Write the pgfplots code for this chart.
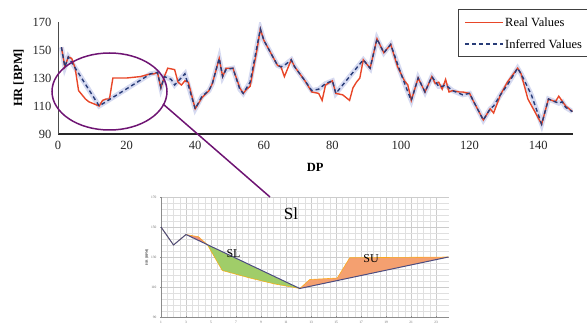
\documentclass[border=0pt]{standalone}
\usepackage{pgfplots}
\pgfplotsset{compat=1.18}
\usepgfplotslibrary{fillbetween}
\usepackage{fontspec}
\setmainfont{Liberation Serif}
\definecolor{realc}{RGB}{232,70,40}
\definecolor{infc}{RGB}{40,60,120}
\definecolor{glowc}{RGB}{200,206,236}
\definecolor{ellc}{RGB}{110,20,115}
\definecolor{slc}{RGB}{160,205,105}
\definecolor{suc}{RGB}{244,160,112}
\definecolor{sdc}{RGB}{235,120,90}
\begin{document}
\begin{tikzpicture}
% ---------------- main chart ----------------
\begin{axis}[
  at={(58pt,196pt)}, anchor=south west,
  scale only axis, width=514.5pt, height=112pt,
  xmin=0, xmax=150, ymin=90, ymax=170,
  axis x line=bottom, axis y line=left,
  x axis line style={-, line width=1.2pt, black!85},
  y axis line style={-, line width=0.8pt, black!70},
  xtick={0,20,...,140}, ytick={90,110,...,170},
  major tick length=0pt,
  tick label style={font=\fontsize{12.5}{14}\selectfont, black!85},
  /pgf/number format/assume math mode=true,
  xticklabel style={yshift=-4pt},
  yticklabel style={xshift=-3pt},
  xlabel={\textbf{DP}}, ylabel={\textbf{HR [BPM]}},
  label style={font=\fontsize{12.5}{14}\selectfont},
  xlabel style={yshift=-6pt},
  ylabel style={yshift=2pt},
]
\addplot[color=glowc, line width=5pt, opacity=0.75] coordinates {
(1,152)(2,138)(3,145)(12,110)(27,133)(29,134)(30,123)(31,131)(33,129)(34,125)(37,133)(40,108)(42,117)(44,121)(45,126)(47,144)(48,131)(49,136)(51,137)(53,122)(54,119)(56,127)(59,165)(60,157)(62,148)(64,139)(65,138)(66,139)(68,143)(69,138)(72,128)(74,121)(76,122)(78,126)(80,128)(81,119)(89,143)(91,137)(93,158)(95,148)(97,154)(99,140)(100,133)(102,120)(103,114)(105,130)(107,120)(109,131)(111,124)(112,124)(113,125)(115,121)(118,118)(120,119)(121,114)(124,100)(126,108)(127,110)(129,118)(131,125)(134,137)(135,133)(138,118)(141,97)(143,115)(146,112)(147,113)(148,109)(150,106)};
\addplot[color=realc, line width=1.4pt] coordinates {
(1,152)(2,138)(3,145)(4,144)(5,137)(6,121)(7,118)(8,115)(9,113)(10,112)(11,111)(12,110)(13,114)(14,115)(15,115)(16,130)(20,130)(24,131)(27,133)(28,133)(29,134)(30,123)(31,131)(32,137)(34,136)(35,127)(36,125)(37,128)(38,127)(40,108)(42,116)(44,121)(45,126)(47,144)(48,131)(49,137)(50,137)(51,137)(53,123)(54,119)(55,122)(56,124)(58,150)(59,165)(60,157)(62,148)(64,139)(65,138)(66,131)(68,143)(69,138)(72,128)(74,120)(76,119)(77,114)(78,125)(80,128)(81,119)(83,118)(85,114)(86,123)(87,127)(88,130)(89,143)(91,137)(93,158)(95,148)(97,154)(99,138)(100,133)(101,128)(102,125)(103,114)(105,130)(107,120)(109,131)(110,126)(111,127)(112,122)(113,129)(114,120)(115,121)(117,120)(118,120)(120,119)(121,114)(124,100)(126,108)(127,105)(129,118)(131,127)(134,137)(135,133)(137,115)(139,106)(141,97)(143,115)(145,113)(146,117)(148,110)(150,106)};
\addplot[color=infc, line width=1.4pt, dash pattern=on 4pt off 3pt] coordinates {
(1,152)(2,138)(3,145)(12,110)(27,133)(29,134)(30,123)(31,131)(33,129)(34,125)(37,133)(40,108)(42,117)(44,121)(45,126)(47,144)(48,131)(49,136)(51,137)(53,122)(54,119)(56,127)(59,165)(60,157)(62,148)(64,139)(65,138)(66,139)(68,143)(69,138)(72,128)(74,121)(76,122)(78,126)(80,128)(81,119)(89,143)(91,137)(93,158)(95,148)(97,154)(99,140)(100,133)(102,120)(103,114)(105,130)(107,120)(109,131)(111,124)(112,124)(113,125)(115,121)(118,118)(120,119)(121,114)(124,100)(126,108)(127,110)(129,118)(131,125)(134,137)(135,133)(138,118)(141,97)(143,115)(146,112)(147,113)(148,109)(150,106)};
\end{axis}
% ---------------- legend (drawn box) ----------------
\draw[black!75, line width=1pt, fill=white] (458pt,273pt) rectangle (600pt,320pt);
\draw[realc, line width=1.4pt] (465pt,307.3pt) -- (503pt,307.3pt);
\draw[infc, line width=1.4pt, dash pattern=on 4pt off 3pt] (465pt,286pt) -- (503pt,286pt);
\node[anchor=west, inner sep=0pt, font=\fontsize{12.5}{14}\selectfont] at (505pt,307.3pt) {Real Values};
\node[anchor=west, inner sep=0pt, font=\fontsize{12.5}{14}\selectfont] at (505pt,286pt) {Inferred Values};
% ---------------- inset ----------------
\begin{axis}[
  at={(161pt,13pt)}, anchor=south west,
  scale only axis, width=287.5pt, height=120pt,
  xmin=1, xmax=24, ymin=90, ymax=170,
  axis x line=bottom, axis y line=left,
  axis line style={-, black!45, line width=0.6pt},
  xtick={1,3,...,23}, ytick={90,110,...,170},
  minor x tick num=3, minor y tick num=4,
  grid=both,
  major grid style={black!20, line width=0.4pt},
  minor grid style={black!12, line width=0.3pt},
  major tick length=2pt, minor tick length=0pt,
  tick style={black!45},
  tick label style={font=\fontsize{3.5}{4}\selectfont, black!60},
  /pgf/number format/assume math mode=true,
  ylabel={\textbf{HR [BPM]}},
  ylabel style={font=\fontsize{3.5}{4}\selectfont, black!70, yshift=-4pt},
]
\addplot[draw=none, name path=inf] coordinates {(1,150)(2,138)(3,145)(12.1,109)(24,130)};
\addplot[draw=none, name path=real] coordinates {(1,150)(2,138)(3,145)(4,143.5)(4.7,138.3)(5.9,121)(8.1,116)(10.1,112)(12.1,109)(12.9,115)(15.1,116)(16.1,129.5)(24,130)};
\addplot[sdc, opacity=0.8] fill between[of=inf and real, soft clip={domain=3:4.7}];
\addplot[slc] fill between[of=inf and real, soft clip={domain=4.7:12.1}];
\addplot[suc] fill between[of=inf and real, soft clip={domain=12.1:24}];
\addplot[color=orange!70!yellow, line width=0.6pt, opacity=0.8] coordinates {(1,150)(2,138)(3,145)(4,143.5)(4.7,138.3)(5.9,121)(8.1,116)(10.1,112)(12.1,109)(12.9,115)(15.1,116)(16.1,129.5)(24,130)};
\addplot[color=black!50!blue!40!gray, line width=1pt] coordinates {(1,150)(2,138)(3,145)(12.1,109)(24,130)};
\node[font=\fontsize{12}{13}\selectfont] at (axis cs:6.8,132) {SL};
\node[font=\fontsize{12}{13}\selectfont] at (axis cs:17.8,129) {SU};
\end{axis}
% ---------------- annotations ----------------
\draw[ellc, line width=1.5pt] (109.5pt,238.5pt) ellipse [x radius=57.5pt, y radius=38.5pt];
\draw[ellc, line width=1.5pt] (163pt,226pt) -- (270pt,133pt);
\node[font=\fontsize{17}{18}\selectfont] at (291pt,116.5pt) {Sl};
\pgfresetboundingbox
\path[use as bounding box] (0pt,0pt) rectangle (587pt,330pt);
\end{tikzpicture}
\end{document}
